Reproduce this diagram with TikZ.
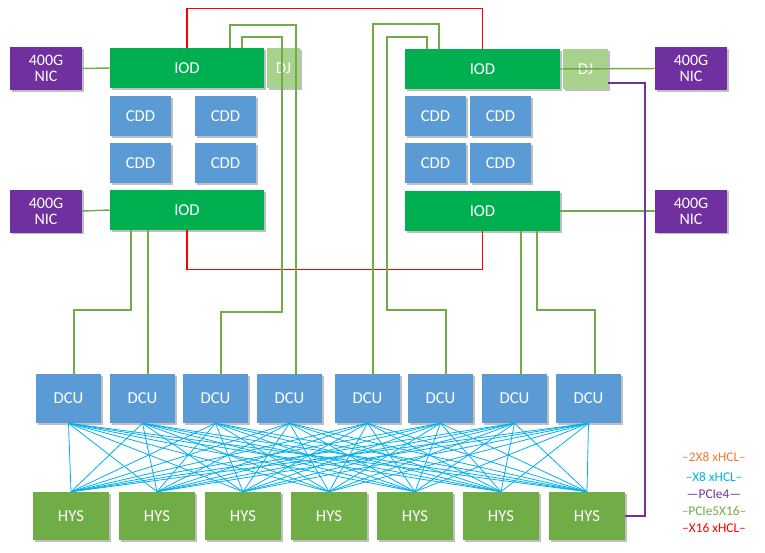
\documentclass[tikz,border=0pt]{standalone}
\usepackage{fontspec}
\setmainfont{Carlito}
\begin{document}
\begin{tikzpicture}[x=0.75pt,y=-0.75pt,
  box/.style={draw=none,text=white,font=\fontsize{12.5}{14}\selectfont,inner sep=0pt,
    preaction={fill=black!25,transform canvas={xshift=1.2pt,yshift=-1.2pt}}},
  nic/.style={box,fill=nicc},
  iod/.style={box,fill=iodc},
  dj/.style={box,fill=djc},
  cdd/.style={box,fill=cddc},
  hys/.style={box,fill=hysc},
  gl/.style={draw=glc,line width=1.1pt},
  rl/.style={draw=red,line width=1.1pt},
  pl/.style={draw=plc,line width=1.1pt},
  bl/.style={draw=blc,line width=0.6pt},
  lg/.style={font=\fontsize{10}{12}\selectfont,anchor=center}]
\definecolor{nicc}{RGB}{112,48,160}
\definecolor{iodc}{RGB}{0,176,80}
\definecolor{djc}{RGB}{169,209,142}
\definecolor{cddc}{RGB}{91,155,213}
\definecolor{hysc}{RGB}{112,173,71}
\definecolor{glc}{RGB}{112,173,71}
\definecolor{plc}{RGB}{112,48,160}
\definecolor{blc}{RGB}{0,176,240}
\definecolor{orc}{RGB}{237,125,49}
\useasboundingbox (0,0) rectangle (765,553);
\newcommand\bx[6]{\node[#1,minimum width={(#4-#2)*0.75pt},minimum height={(#5-#3)*0.75pt}] (#6) at ({(#2+#4)/2},{(#3+#5)/2}) {\csname lbl#1\endcsname};}
% NICs
\foreach \n/\a/\b/\c/\d in {nA/10/47/82/90, nB/10/190/82/232, nC/655/47/727/90, nD/655/190/727/232}
  \node[nic,minimum width={72*0.75pt},minimum height={43*0.75pt},align=center,font=\fontsize{12}{12}\selectfont] (\n) at ({(\a+\c)/2},{(\b+\d)/2}) {400G\\NIC};
% IODs and DJs
\node[iod,minimum width={154*0.75pt},minimum height={40*0.75pt}] (iA) at (187,68) {IOD};
\node[dj,minimum width={33*0.75pt},minimum height={40*0.75pt}] (dA) at (283.5,68) {DJ};
\node[iod,minimum width={155*0.75pt},minimum height={40*0.75pt}] (iB) at (482.5,69) {IOD};
\node[dj,minimum width={45*0.75pt},minimum height={40*0.75pt}] (dB) at (585.5,69) {DJ};
\node[iod,minimum width={154*0.75pt},minimum height={40*0.75pt}] (iC) at (187,210) {IOD};
\node[iod,minimum width={155*0.75pt},minimum height={40*0.75pt}] (iD) at (482.5,211) {IOD};
% CDDs
\foreach \x [count=\i] in {140.5,225.5,435.5,500.5}
  \foreach \y [count=\j] in {116,163}
    \node[cdd,minimum width={61*0.75pt},minimum height={40*0.75pt}] (c\i\j) at (\x,\y) {CDD};
% DCUs
\foreach \x [count=\i] in {36,110,183,257,335,408,482,556}
  \node[cdd,minimum width={65*0.75pt},minimum height={49*0.75pt}] (u\i) at ({\x+32.5},398.5) {DCU};
% HYS
\foreach \x [count=\i] in {33,119,205,291,377,463,549}
  \node[hys,minimum width={76*0.75pt},minimum height={48*0.75pt}] (h\i) at ({\x+38},516) {HYS};
% full mesh
\foreach \i in {1,...,8}
  \foreach \j in {1,...,7}
    \draw[bl] (u\i.south) -- (h\j.north);
% NIC links
\draw[gl] (nA.east) -- (iA.west);
\draw[gl] (nB.east) -- (iC.west);
\draw[gl] (iB.east) -- (nC.west);
\draw[gl] (iD.east) -- (nD.west);
% red
\draw[rl] (iA.north) -- ++(0,-39) -| (iB.north);
\draw[rl] (iC.south) -- ++(0,39) -| (iD.south);
% green DCU links
\draw[gl] (u1.north -| 74,0) |- (131,310) -- (131,230);
\draw[gl] (u2.north -| 148,0) -- (148,230);
\draw[gl] (u3.north -| 221,0) |- (282,312) |- (242,37) -- (242,48);
\draw[gl] (u4.north -| 296,0) |- (230,25) -- (230,48);
\draw[gl] (u5.north -| 373,0) |- (439,24) -- (439,49);
\draw[gl] (u6.north -| 446,0) |- (387,310) |- (427,37) -- (427,49);
\draw[gl] (u7.north -| 521,0) -- (521,231);
\draw[gl] (u8.north -| 595,0) |- (537,310) -- (537,231);
% purple
\draw[pl] (dB.east |- 0,83) -| (645,516) -- (h7.east |- 0,516);
% legend
\node[lg,text=orc] (l1) at (714,457) {--2X8 xHCL--};
\node[lg,text=blc] (l2) at (714,477) {--X8 xHCL--};
\node[lg,text=plc] (l3) at (714,494) {---PCIe4---};
\node[lg,text=glc] (l4) at (714,511) {--PCIe5X16--};
\node[lg,text=red] (l5) at (714,528) {--X16 xHCL--};
\end{tikzpicture}
\end{document}
